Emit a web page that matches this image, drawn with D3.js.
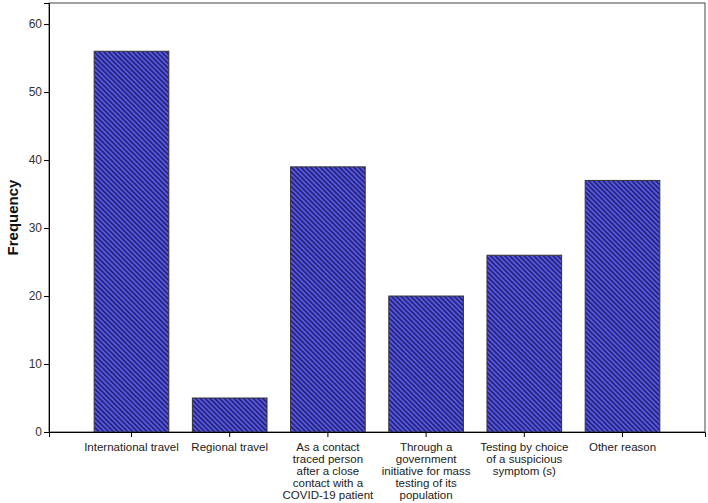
<!DOCTYPE html>
<html>
<head>
<meta charset="utf-8">
<script src="https://cdn.jsdelivr.net/npm/d3@7"></script>
<style>
  body { margin: 0; background: #fff; }
  svg text { font-family: Arial, "Liberation Sans", sans-serif; }
</style>
</head>
<body>
<svg class="chart" width="708" height="503"></svg>
<script>
// categories, wrapped the way the picture wraps them
var categories = [
  ['International travel'],
  ['Regional travel'],
  ['As a contact', 'traced person', 'after a close', 'contact with a', 'COVID-19 patient'],
  ['Through a', 'government', 'initiative for mass', 'testing of its', 'population'],
  ['Testing by choice', 'of a suspicious', 'symptom (s)'],
  ['Other reason']
];
var frequency = [56, 5, 39, 20, 26, 37];
var yTicks = [0, 10, 20, 30, 40, 50, 60];

var margin = {top: 3, right: 3, bottom: 71, left: 49},
    width = 708 - margin.left - margin.right,
    height = 503 - margin.top - margin.bottom;

var svg = d3.select(".chart");

// hatch pattern for the bars (lines running top-left to bottom-right)
var defs = svg.append("defs");
var pat = defs.append("pattern")
    .attr("id", "hatch")
    .attr("patternUnits", "userSpaceOnUse")
    .attr("width", 3.4)
    .attr("height", 3.4)
    .attr("patternTransform", "rotate(-45)");
pat.append("rect")
    .attr("width", 3.4).attr("height", 3.4)
    .attr("fill", "#5656ee");
pat.append("rect")
    .attr("width", 1.5).attr("height", 3.4)
    .attr("fill", "#20205e");

var chart = svg.append("g")
    .attr("transform", "translate(" + margin.left + "," + margin.top + ")");

var idx = categories.map(function(d, i) { return i; });

var x = d3.scaleBand()
    .domain(idx)
    .range([0, width])
    .paddingInner(0.24)
    .paddingOuter(0.46);

var y = d3.scaleLinear()
    .domain([0, 63.1])
    .range([height, 0]);

// frame
chart.append("rect")
    .attr("width", width)
    .attr("height", height)
    .attr("fill", "none")
    .attr("stroke", "#444")
    .attr("stroke-width", 1);

// bars
chart.selectAll(".bar")
    .data(frequency)
  .enter().append("rect")
    .attr("class", "bar")
    .attr("x", function(d, i) { return x(i); })
    .attr("width", x.bandwidth())
    .attr("y", function(d) { return y(d); })
    .attr("height", function(d) { return height - y(d); })
    .attr("fill", "url(#hatch)")
    .attr("stroke", "#333")
    .attr("stroke-width", 1);

// y axis
var yAxis = d3.axisLeft(y).tickValues(yTicks).tickSize(5).tickPadding(2);
var gy = chart.append("g")
    .attr("class", "y axis")
    .call(yAxis);
gy.select(".domain").attr("stroke", "#000");
gy.selectAll(".tick line").attr("stroke", "#000");
gy.selectAll(".tick text")
    .attr("font-size", 12)
    .attr("fill", "#333");

// x axis
var xAxis = d3.axisBottom(x).tickSize(5).tickFormat("");
var gx = chart.append("g")
    .attr("class", "x axis")
    .attr("transform", "translate(0," + height + ")")
    .call(xAxis);
gx.select(".domain").attr("stroke", "#000");
gx.selectAll(".tick line").attr("stroke", "#000");

gx.selectAll(".tick").each(function(i) {
  var t = d3.select(this).append("text")
      .attr("text-anchor", "middle")
      .attr("font-size", 11.5)
      .attr("fill", "#222")
      .attr("y", 19);
  categories[i].forEach(function(line, k) {
    t.append("tspan")
        .attr("x", 0)
        .attr("dy", k === 0 ? 0 : 12.1)
        .text(line);
  });
});

// y title
svg.append("text")
    .attr("transform", "translate(18," + (margin.top + height / 2) + ") rotate(-90)")
    .attr("text-anchor", "middle")
    .attr("font-size", 15)
    .attr("font-weight", "bold")
    .attr("fill", "#111")
    .text("Frequency");
</script>
</body>
</html>
